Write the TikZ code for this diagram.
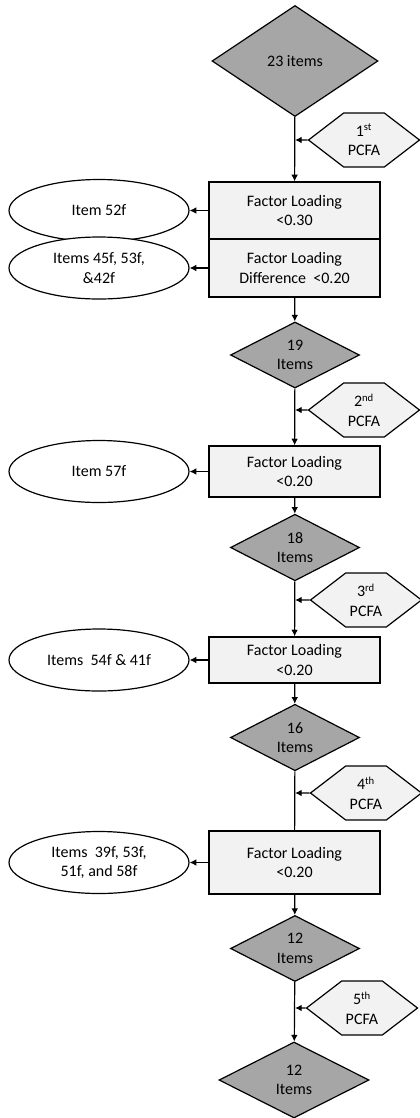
\documentclass[tikz,border=0pt]{standalone}
\usepackage{fontspec}
\setmainfont{Carlito}
\usepackage{tikz}
\usetikzlibrary{arrows.meta, positioning, shapes.geometric, shapes.symbols}

\begin{document}
\begin{tikzpicture}[x=0.75pt, y=-0.75pt, >={Latex[length=5pt, width=5pt]}, line width=0.9pt, font=\fontsize{12}{14.5}\selectfont]
		\tikzstyle{items} = [draw=black, diamond, fill=gray!70, inner sep=0pt, align=center, minimum width=96.75pt, minimum height=48pt]
		\tikzstyle{filter} = [draw=black, rectangle, fill=black!5, align=center, minimum width=128.25pt, inner sep=1pt]
		\tikzstyle{pcfa} = [draw=black, signal, signal to=west and east, signal pointer angle=75, fill=black!5, align=center, minimum width=83.25pt, minimum height=40.5pt, inner sep=0pt]
		\tikzstyle{removed} = [draw=black, ellipse, fill=white, align=center, minimum width=135pt, minimum height=46.5pt, inner sep=0pt]
		\tikzstyle{arrow} = [->]

		\useasboundingbox (0,0) rectangle (420,1118);

		\node[items, minimum width=124.5pt, minimum height=83.25pt] at (295, 61) (d1) {23 items};
		\node[pcfa]		at (364, 140)	(h1)	{1\textsuperscript{st}\\PCFA};
		\node[filter, minimum height=42.75pt]	at (294.5, 210.5)	(b1)	{Factor Loading\\<0.30};
		\node[filter, minimum height=43.5pt]	at (294.5, 268)	(b2)	{Factor Loading\\Difference~ <0.20};
		\node[removed]	at (99, 210.5)	(e1)	{Item 52f};
		\node[removed]	at (99, 268)	(e2)	{Items 45f, 53f,\\\&42f};

		\node[items]	at (295, 355)	(d2)	{19\\Items};
		\node[pcfa]		at (364, 410)	(h2)	{2\textsuperscript{nd}\\PCFA};
		\node[filter, minimum height=38.25pt]	at (294.5, 471.5)	(b3)	{Factor Loading\\<0.20};
		\node[removed]	at (99, 471.5)	(e3)	{Item 57f};

		\node[items]	at (295, 547.5)	(d3)	{18\\Items};
		\node[pcfa]		at (366, 600)	(h3)	{3\textsuperscript{rd}\\PCFA};
		\node[filter, minimum height=34.5pt]	at (294.5, 660)	(b4)	{Factor Loading\\<0.20};
		\node[removed]	at (99, 660)	(e4)	{Items~ 54f \& 41f};

		\node[items]	at (295, 737.5)	(d4)	{16\\Items};
		\node[pcfa]		at (366, 793)	(h4)	{4\textsuperscript{th}\\PCFA};
		\node[filter, minimum height=47.25pt]	at (294.5, 862.5)	(b5)	{Factor Loading\\<0.20};
		\node[removed]	at (99, 862.5)	(e5)	{Items~ 39f, 53f,\\51f, and 58f};

		\node[items]	at (295, 948.5)	(d5)	{12\\Items};
		\node[pcfa]		at (362, 1008)	(h5)	{5\textsuperscript{th}\\PCFA};
		\node[items, minimum width=112.5pt, minimum height=57pt] at (294, 1080) (d6) {12\\Items};

		\draw [arrow] (d1) -- (b1);
		\draw [arrow] (h1) -- (h1 -| d1);
		\draw [arrow] (b1) -- (e1);
		\draw [arrow] (b2) -- (e2);
		\draw [arrow] (b2) -- (d2);

		\draw [arrow] (d2) -- (b3);
		\draw [arrow] (h2) -- (h2 -| d2);
		\draw [arrow] (b3) -- (e3);
		\draw [arrow] (b3) -- (d3);

		\draw [arrow] (d3) -- (b4);
		\draw [arrow] (h3) -- (h3 -| d3);
		\draw [arrow] (b4) -- (e4);
		\draw [arrow] (b4) -- (d4);

		\draw (d4) -- (b5);
		\draw [arrow] (h4) -- (h4 -| d4);
		\draw [arrow] (b5) -- (e5);
		\draw [arrow] (b5) -- (d5);

		\draw [arrow] (d5) -- (d6);
		\draw [arrow] (h5) -- (h5 -| d5);
	\end{tikzpicture}
\end{document}
